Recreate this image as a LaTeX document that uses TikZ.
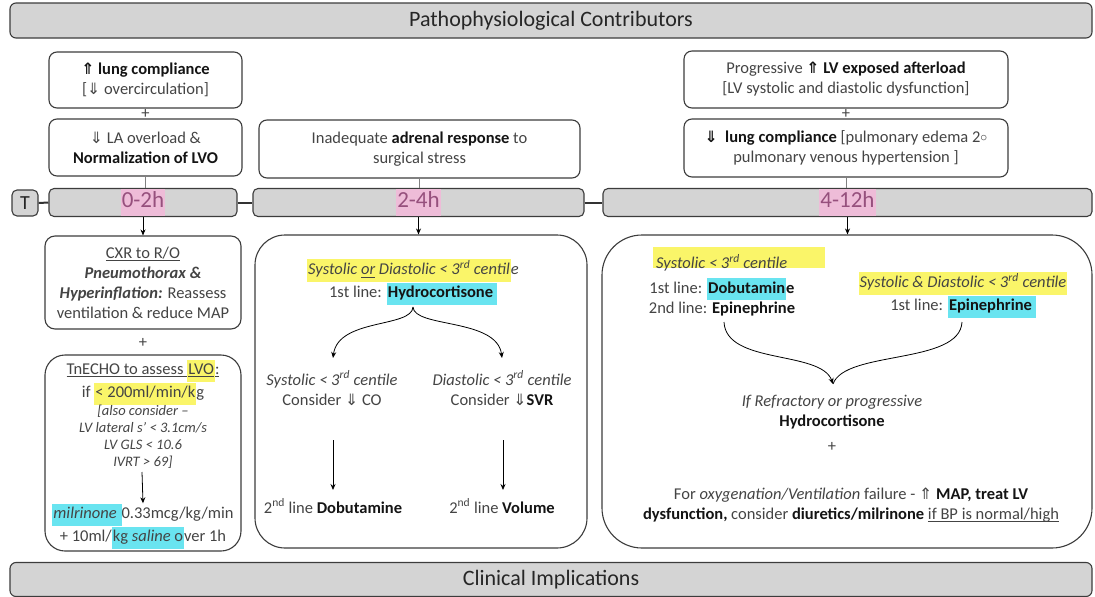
\documentclass[tikz,border=0pt]{standalone}
\usepackage{fontspec}
\usepackage{graphicx}
\setmainfont{Carlito}
\newfontfamily\dvf{DejaVu Sans}
\usetikzlibrary{arrows.meta}
\definecolor{txtc}{RGB}{68,68,68}
\definecolor{bdr}{RGB}{60,60,60}
\definecolor{barg}{RGB}{212,212,212}
\definecolor{hly}{RGB}{250,245,105}
\definecolor{hlc}{RGB}{105,228,240}
\definecolor{hlp}{RGB}{238,188,216}
\definecolor{pinkt}{RGB}{150,80,125}
\newcommand\UpA{{\dvf\scalebox{0.95}{⇑}}}
\newcommand\DnA{{\dvf\scalebox{0.95}{⇓}}}
\newcommand\HY[1]{{\setlength{\fboxsep}{1pt}\colorbox{hly}{\strut #1}}}
\newcommand\HC[1]{{\setlength{\fboxsep}{1pt}\colorbox{hlc}{\strut #1}}}
\newcommand\HP[1]{{\setlength{\fboxsep}{1pt}\colorbox{hlp}{\strut #1}}}
\newcommand\B[1]{{\bfseries\color{black!92}#1}}
\newcommand\Uln[1]{{\setbox0\hbox{#1}\rlap{\rule[-2.6pt]{\wd0}{0.7pt}}\box0}}
\newcommand\fs{\fontsize{16.5}{20}\selectfont}
\tikzset{
  box/.style={draw=bdr, line width=1.1pt, fill=white, rounded corners=8pt, align=center, inner sep=0pt, text=txtc, font=\fs},
  bar/.style={draw=bdr, line width=1.1pt, fill=barg, rounded corners=5pt, inner sep=0pt, text=pinkt, font=\fontsize{23}{25}\selectfont},
  hdr/.style={draw=bdr, line width=1.1pt, fill=barg, rounded corners=6pt, inner sep=0pt, text=black!85, font=\fontsize{22}{24}\selectfont},
  txt/.style={align=center, inner sep=0pt, text=txtc, font=\fs},
  arr/.style={draw=black, line width=0.8pt, -{Stealth[length=6pt,width=5pt]}},
  link/.style={draw=black!80, line width=2pt},
  thin/.style={draw=black!50, line width=0.6pt},
}
\begin{document}
\begin{tikzpicture}[x=1pt,y=-1pt]
\useasboundingbox (0,0) rectangle (1095,597);
% header / footer
\node[hdr, minimum width=1082pt, minimum height=35pt] (top) at (551,20.5) {Pathophysiological Contributors};
\node[hdr, minimum width=1082pt, minimum height=34pt] (bot) at (551,579.5) {Clinical Implications};
% timeline
\node[bar, text=black!85, font=\fontsize{20}{22}\selectfont, minimum width=26pt, minimum height=26pt] (T) at (25,203) {T};
\node[bar, minimum width=188pt, minimum height=28pt] (b1) at (143,202.5) {\HP{0-2h}};
\node[bar, minimum width=331pt, minimum height=28pt] (b2) at (418.5,202.5) {\HP{2-4h}};
\node[bar, minimum width=489pt, minimum height=28pt] (b3) at (847.5,202.5) {\HP{4-12h}};
\draw[link] (T.east) -- (b1.west);
\draw[link] (b1.east) -- (b2.west);
\draw[link] (b2.east) -- (b3.west);
% upper left
\node[box, minimum width=193pt, minimum height=56pt] (lc) at (145.5,80) {\B{\UpA\ lung compliance}\\ {[}\DnA\ overcirculation{]}};
\node[txt] (lp) at (145.5,113.5) {+};
\node[box, minimum width=193pt, minimum height=57pt] (la) at (145.5,147.5) {\DnA\ LA overload \&\\ \B{Normalization of LVO}};
\draw[thin] (la.south) -- (la.south |- b1.north);
% upper middle
\node[box, minimum width=321pt, minimum height=58pt] (ad) at (419.5,149) {Inadequate \B{adrenal response} to\\ surgical stress};
\draw[thin] (ad.south) -- (ad.south |- b2.north);
% upper right
\node[box, minimum width=324pt, minimum height=57pt] (ra) at (846,79.5) {Progressive \B{\UpA\ LV exposed afterload}\\ {[}LV systolic and diastolic dysfunction{]}};
\node[txt] (rp) at (846,113.5) {+};
\node[box, minimum width=324pt, minimum height=58pt] (rl) at (846,148) {\B{\DnA\ \ lung compliance} {[}pulmonary edema 2\raisebox{1pt}{\scalebox{0.8}{$\circ$}}\\ pulmonary venous hypertension {]}};
\draw[thin] (rl.south) -- (rl.south |- b3.north);
% lower left
\node[box, minimum width=196pt, minimum height=93pt, rounded corners=10pt] (lx) at (143,282.5) {\Uln{CXR to R/O}\\ \textbf{\textit{Pneumothorax \&}}\\ \textbf{\textit{Hyperinflation:}} Reassess\\ ventilation \& reduce MAP};
\node[txt] (lp2) at (143,343) {+};
\node[box, minimum width=196pt, minimum height=196pt, rounded corners=20pt] (le) at (143,453) {};
\node[txt] (le1) at (143,382) {\Uln{TnECHO to assess }\HY{\Uln{LVO}}\Uln{:}\\ if \HY{< 200ml/min/k}g};
\node[txt, font=\fontsize{14.5}{17}\selectfont\itshape] (le2) at (143,437) {{[}also consider --\\ LV lateral s’ < 3.1cm/s\\ LV GLS < 10.6\\ IVRT > 69{]}};
\coordinate (lea) at (142,472);
\node[txt] (le3) at (143,526) {\HC{\textit{milrinone} }0.33mcg/kg/min\\ + 10ml/\HC{kg \textit{saline} o}ver 1h};
\draw[arr] (lea) -- (le3.north);
\draw[arr] (b1.south) -- (lx.north);
% lower middle
\node[box, minimum width=332pt, minimum height=313pt, rounded corners=30pt] (mb) at (421,391.5) {};
\draw[arr] (b2.south) -- (b2.south |- mb.north);
\node[txt] (m1) at (413,282) {\HY{\itshape Systolic \Uln{or} Diastolic < 3\textsuperscript{rd} centil}{\itshape e}\\ 1st line: \HC{\B{Hydrocortisone}\,}};
\coordinate (mtop) at (413,307);
\node[txt] (ms) at (332,388) {\textit{Systolic < 3\textsuperscript{rd} centile}\\ Consider \DnA\ CO};
\node[txt] (md) at (502,388) {\textit{Diastolic < 3\textsuperscript{rd} centile}\\ Consider \DnA\B{SVR}};
\draw[arr] (mtop) .. controls (412,328) and (338,318) .. (333,358);
\draw[arr] (mtop) .. controls (414,328) and (497,318) .. (502,358);
\node[txt] (mdob) at (333,506) {2\textsuperscript{nd} line \B{Dobutamine}};
\node[txt] (mvol) at (502,506) {2\textsuperscript{nd} line \B{Volume}};
\coordinate (ma1) at (333,440);
\coordinate (ma2) at (503,440);
\draw[arr] (ma1) -- (ma1 |- 0,490);
\draw[arr] (ma2) -- (ma2 |- 0,490);
% lower right
\node[box, minimum width=490pt, minimum height=313pt, rounded corners=40pt] (rb) at (847,391.5) {};
\draw[arr] (b3.south) -- (b3.south |- rb.north);
\fill[hly] (653,247) rectangle (825,268);
\node[txt, anchor=west] (rs) at (656,263) {\textit{Systolic < 3\textsuperscript{rd} centile}};
\node[txt] (rs2) at (722,297) {1st line: \HC{\B{Dobutamin}}\B{e}\\ 2nd line: \B{Epinephrine}};
\node[txt] (rsd) at (963,295) {\HY{\itshape Systolic \& Diastolic < 3\textsuperscript{rd} centile}\\ 1st line: \HC{\B{Epinephrine}\,}};
\coordinate (rcl) at (724,322);
\coordinate (rcr) at (962,322);
\coordinate (rcm) at (833,384);
\draw[line width=0.8pt] (rcr) .. controls (960,365) and (845,350) .. (rcm);
\draw[arr] (rcl) .. controls (726,365) and (821,350) .. (rcm);
\node[txt] (rref) at (832,412) {\textit{If Refractory or progressive}\\ \B{Hydrocortisone}};
\node[txt] (rplus) at (832,447) {+};
\node[txt] (rfor) at (851,505) {For \textit{oxygenation/Ventilation} failure - \UpA\ \B{MAP, treat LV}\\ \B{dysfunction,} consider \B{diuretics/milrinone} \Uln{if BP is normal/high}};
\end{tikzpicture}
\end{document}
